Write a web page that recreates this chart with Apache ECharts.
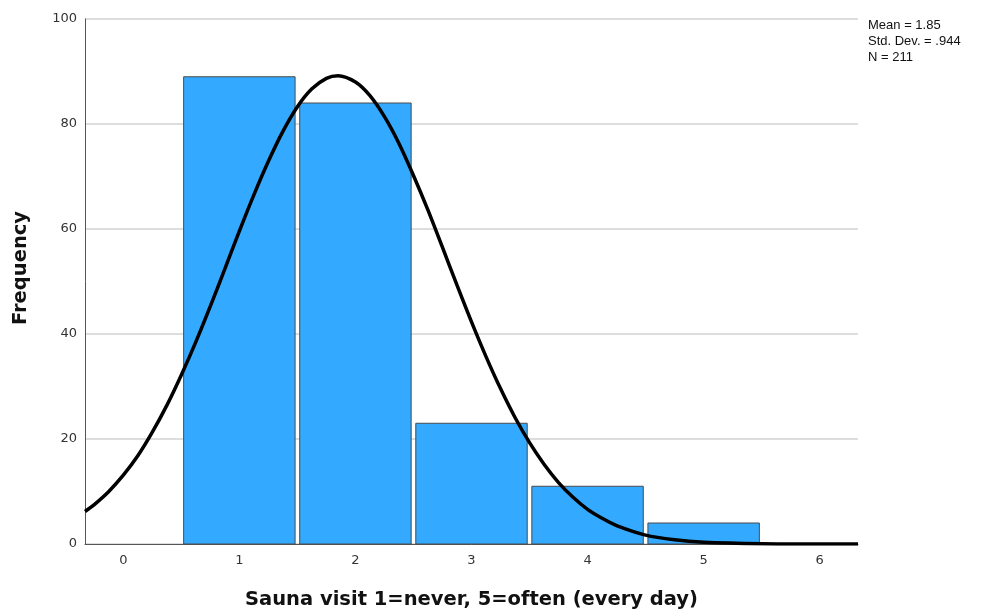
<!DOCTYPE html>
<html>
<head>
<meta charset="utf-8">
<script src="https://cdn.jsdelivr.net/npm/echarts@6/dist/echarts.min.js"></script>
<style>
  html, body { margin: 0; padding: 0; background: #fff; }
  #chart { width: 995px; height: 615px; }
</style>
</head>
<body>
<div id="chart"></div>
<script>
// Sauna visit frequency histogram (1 = never, 5 = often)
const categories = [1, 2, 3, 4, 5];
const frequencies = [89, 84, 23, 11, 4];
const xTickLabels = [0, 1, 2, 3, 4, 5, 6];
const yTickLabels = [0, 20, 40, 60, 80, 100];

// Fitted normal curve read at regular x positions
const curveX = [-0.33, -0.25, -0.125, 0, 0.125, 0.25, 0.375, 0.5, 0.625, 0.75, 0.875, 1, 1.125, 1.25, 1.375, 1.5, 1.625, 1.75, 1.85, 2, 2.125, 2.25, 2.375, 2.5, 2.625, 2.75, 2.875, 3, 3.125, 3.25, 3.375, 3.5, 3.625, 3.75, 3.875, 4, 4.125, 4.25, 4.5, 4.75, 5, 5.5, 6, 6.33];
const curveY = [6.2, 7.5, 10.0, 13.1, 16.8, 21.3, 26.4, 32.2, 38.5, 45.3, 52.4, 59.6, 66.5, 72.9, 78.6, 83.3, 86.7, 88.7, 89.2, 88.0, 85.4, 81.4, 76.3, 70.2, 63.6, 56.5, 49.3, 42.3, 35.7, 29.6, 24.1, 19.3, 15.2, 11.7, 8.9, 6.6, 4.9, 3.5, 1.7, 0.8, 0.34, 0.05, 0, 0];

const statsLines = ['Mean = 1.85', 'Std. Dev. = .944', 'N = 211'];
const xTitle = 'Sauna visit 1=never, 5=often (every day)';
const yTitle = 'Frequency';

const chart = echarts.init(document.getElementById('chart'), null, { renderer: 'canvas' });

const barHalf = 0.48;
const titleStyle = { fontFamily: 'DejaVu Sans', fontWeight: 'bold', fontSize: 19.5, color: '#111' };

chart.setOption({
  animation: false,
  backgroundColor: '#ffffff',
  grid: { left: 85, right: 137, top: 19, bottom: 70 },
  xAxis: {
    type: 'value',
    min: -0.33,
    max: 6.33,
    name: xTitle,
    nameLocation: 'middle',
    nameGap: 46,
    nameTextStyle: titleStyle,
    axisLine: { show: true, onZero: false, lineStyle: { color: '#555', width: 1 } },
    axisTick: { show: false },
    splitLine: { show: false },
    axisLabel: {
      customValues: xTickLabels,
      margin: 10,
      fontFamily: 'DejaVu Sans',
      fontSize: 13,
      color: '#333'
    }
  },
  yAxis: {
    type: 'value',
    min: 0,
    max: 100,
    interval: 20,
    axisLine: { show: true, onZero: false, lineStyle: { color: '#555', width: 1 } },
    axisTick: { show: false },
    axisLabel: {
      margin: 8,
      fontFamily: 'DejaVu Sans',
      fontSize: 13,
      color: '#333',
      formatter: v => (yTickLabels.indexOf(v) >= 0 ? String(v) : '')
    },
    splitLine: { show: true, lineStyle: { color: '#d2d2d2', width: 1.5 } }
  },
  series: [
    {
      type: 'custom',
      data: categories.map((c, i) => [c, frequencies[i]]),
      renderItem: function (params, api) {
        const x = api.value(0);
        const y = api.value(1);
        const p0 = api.coord([x - barHalf, y]);
        const p1 = api.coord([x + barHalf, 0]);
        return {
          type: 'rect',
          shape: { x: p0[0], y: p0[1], width: p1[0] - p0[0], height: p1[1] - p0[1] },
          style: { fill: '#33aaff', stroke: '#4a4a4a', lineWidth: 1 }
        };
      },
      z: 2
    },
    {
      type: 'line',
      data: curveX.map((x, i) => [x, curveY[i]]),
      smooth: 0.3,
      showSymbol: false,
      clip: true,
      lineStyle: { color: '#000', width: 3.5 },
      z: 3
    }
  ],
  graphic: [
    {
      type: 'text',
      x: 21,
      y: 268,
      rotation: Math.PI / 2,
      style: {
        text: yTitle,
        fontFamily: titleStyle.fontFamily,
        fontWeight: 'bold',
        fontSize: titleStyle.fontSize,
        fill: '#111',
        align: 'center',
        verticalAlign: 'middle'
      }
    },
    {
      type: 'text',
      left: 868,
      top: 17,
      style: {
        text: statsLines.join('\n'),
        fontFamily: 'Liberation Sans',
        fontSize: 13,
        lineHeight: 16,
        fill: '#111'
      }
    }
  ]
});
</script>
</body>
</html>
